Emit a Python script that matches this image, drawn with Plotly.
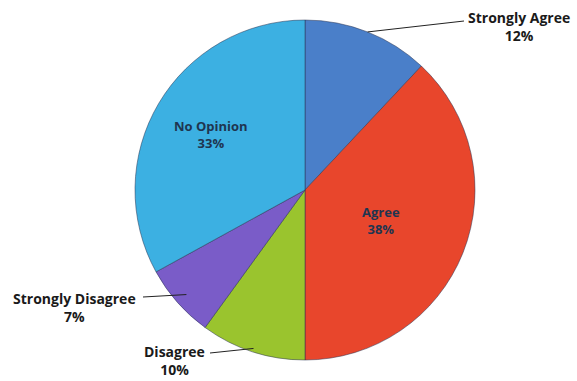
import math
import plotly.graph_objects as go

# Survey responses (percent of respondents)
categories = ["Strongly Agree", "Agree", "Disagree", "Strongly Disagree", "No Opinion"]
values = [12, 38, 10, 7, 33]
colors = ["#4a7fc9", "#e8462c", "#9ac42e", "#7a5cc8", "#3cb0e2"]

W, H = 577, 381
CX, CY, R = 305, 190, 170  # pie centre and radius in pixels

def px(x):
    return x / W

def py(y):
    return 1 - y / H

fig = go.Figure(go.Pie(
    labels=categories,
    values=values,
    sort=False,
    direction="clockwise",
    rotation=0,
    marker=dict(colors=colors, line=dict(color="rgba(40,50,80,0.5)", width=1)),
    textinfo="none",
    hoverinfo="label+percent",
    domain=dict(x=[px(CX - R), px(CX + R)], y=[py(CY + R), py(CY - R)]),
    showlegend=False,
))

# mid-angle of each slice, measured clockwise from 12 o'clock
total = sum(values)
mids = []
acc = 0
for v in values:
    mids.append((acc + v / 2) / total * 360)
    acc += v

def polar(angle_deg, frac):
    a = math.radians(angle_deg)
    return CX + frac * R * math.sin(a), CY - frac * R * math.cos(a)

font_in = dict(family="Open Sans", size=13, color="#1f3550")
font_out = dict(family="Open Sans", size=14, color="#1a1a1a")

annotations = []
shapes = []

# labels placed inside the large slices
inside = {"Agree": 0.48, "No Opinion": 0.64}
# labels placed outside with leader lines: text anchor (pixels), line end at text side
outside = {
    "Strongly Agree": dict(tx=519, ty=26, lx=464, ly=21, frac=1.0),
    "Strongly Disagree": dict(tx=74, ty=307, lx=143, ly=297, frac=0.93),
    "Disagree": dict(tx=174, ty=360, lx=210, ly=353, frac=0.98),
}

for name, val, mid in zip(categories, values, mids):
    text = f"<b>{name}<br>{val}%</b>"
    if name in inside:
        x, y = polar(mid, inside[name])
        annotations.append(dict(x=px(x), y=py(y), xref="paper", yref="paper",
                                text=text, showarrow=False, font=font_in,
                                xanchor="center", yanchor="middle"))
    else:
        o = outside[name]
        ex, ey = polar(mid, o["frac"])
        shapes.append(dict(type="line", xref="paper", yref="paper",
                           x0=px(o["lx"]), y0=py(o["ly"]), x1=px(ex), y1=py(ey),
                           line=dict(color="#222222", width=1)))
        annotations.append(dict(x=px(o["tx"]), y=py(o["ty"]), xref="paper", yref="paper",
                                text=text, showarrow=False, font=font_out,
                                xanchor="center", yanchor="middle"))

fig.update_layout(
    width=W, height=H,
    margin=dict(l=0, r=0, t=0, b=0),
    paper_bgcolor="white",
    plot_bgcolor="white",
    annotations=annotations,
    shapes=shapes,
)

fig.write_html("out.html")
